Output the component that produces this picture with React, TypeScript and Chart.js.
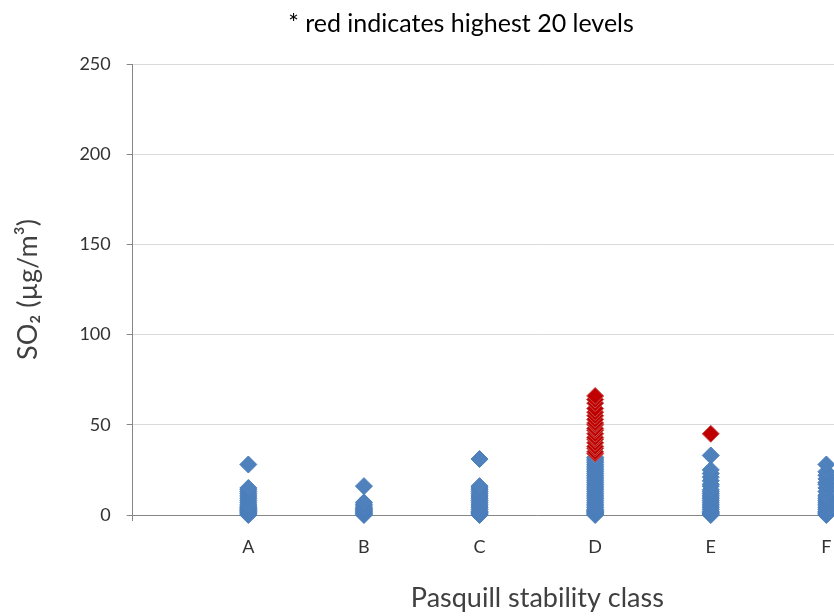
import React, { useEffect, useRef } from "react";
import { Chart, registerables } from "chart.js";

Chart.register(...registerables);

// Pasquill stability classes along the horizontal axis (positions 1..6)
const categories = ["A", "B", "C", "D", "E", "F"];

// SO2 levels (µg/m³) per stability class
const blueA = [0, 0.5, 1, 1.5, 2, 2.5, 3, 3.5, 4, 4.5, 5, 6, 7, 8, 9, 10, 11, 12, 13, 14, 15, 28];
const blueB = [0, 0.5, 1, 1.5, 2, 2.5, 3, 3.5, 4, 5, 6, 7, 16];
const blueC = [0, 0.5, 1, 1.5, 2, 3, 4, 5, 6, 7, 8, 9, 10, 11, 12, 13, 14, 15, 16, 31];
const blueD = [
  0, 0.5, 1, 1.5, 2, 2.5, 3, 4, 5, 6, 7, 8, 9, 10, 11, 12, 13, 14, 15, 16, 17, 18, 19, 20, 21,
  22, 23, 24, 25, 26, 27, 28, 29, 30, 31, 32,
];
const blueE = [0, 0.5, 1, 1.5, 2, 3, 4, 5, 6, 7, 8, 9, 10, 11, 12, 13, 14, 16, 17, 19, 21, 23, 25, 33];
const blueF = [0, 0.5, 1, 1.5, 2, 3, 4, 5, 6, 7, 8, 9, 10, 11, 13, 15, 17, 18, 20, 22, 24, 28];

// The 20 highest levels, split by class
const redD = [34, 35, 37, 38, 40, 42, 43, 45, 47, 48, 50, 51, 53, 55, 57, 59, 62, 64, 66];
const redE = [45];

const yTicks = [0, 50, 100, 150, 200, 250];

const blueSeries = [blueA, blueB, blueC, blueD, blueE, blueF];
const redSeries: Record<string, number[]> = { D: redD, E: redE };

const FONT = "Lato, 'Open Sans', sans-serif";

export default function App() {
  const canvasRef = useRef<HTMLCanvasElement | null>(null);

  useEffect(() => {
    if (!canvasRef.current) return;

    const bluePoints = blueSeries.flatMap((vals, i) => vals.map((v) => ({ x: i + 1, y: v })));
    const redPoints = categories.flatMap((c, i) =>
      (redSeries[c] || []).map((v) => ({ x: i + 1, y: v }))
    );

    const chart = new Chart(canvasRef.current, {
      type: "scatter",
      data: {
        datasets: [
          {
            label: "Highest 20",
            data: redPoints,
            pointStyle: "rectRot",
            pointRadius: 8.5,
            backgroundColor: "#C00000",
            borderColor: "#C8504D",
            borderWidth: 1,
            clip: false,
          },
          {
            label: "SO2",
            data: bluePoints,
            pointStyle: "rectRot",
            pointRadius: 8.5,
            backgroundColor: "#4F81BD",
            borderColor: "#4A7EBB",
            borderWidth: 1,
            clip: false,
          },
        ],
      },
      options: {
        responsive: false,
        animation: false,
        layout: { padding: { top: 64, right: 18, left: 0, bottom: 0 } },
        plugins: {
          legend: { display: false },
          tooltip: { enabled: false },
        },
        scales: {
          x: {
            type: "linear",
            min: 0,
            max: 7,
            afterBuildTicks: (scale: any) => {
              scale.ticks = [0, ...categories.map((_, i) => i + 1)].map((v) => ({ value: v }));
            },
            ticks: {
              autoSkip: false,
              maxRotation: 0,
              padding: 15,
              color: "#333333",
              font: { family: FONT, size: 18 },
              callback: (v: any) => (v >= 1 && v <= categories.length ? categories[v - 1] : ""),
            },
            grid: {
              color: "rgba(0,0,0,0)",
              tickColor: (ctx: any) => (ctx.tick && ctx.tick.value === 0 ? "#868686" : "rgba(0,0,0,0)"),
              tickLength: 6,
            },
            border: { display: true, color: "#868686", width: 1 },
            title: {
              display: true,
              text: "Pasquill stability class",
              color: "#404040",
              font: { family: FONT, size: 27 },
              padding: { top: 9, bottom: 2 },
            },
          },
          y: {
            min: 0,
            max: 250,
            afterBuildTicks: (scale: any) => {
              scale.ticks = yTicks.map((v) => ({ value: v }));
            },
            ticks: {
              padding: 16,
              color: "#333333",
              font: { family: FONT, size: 18 },
            },
            grid: {
              color: "#D9D9D9",
              tickColor: "#868686",
              tickLength: 6,
            },
            border: { display: true, color: "#868686", width: 1 },
            title: {
              display: true,
              text: "SO₂ (µg/m³)",
              color: "#404040",
              font: { family: FONT, size: 27 },
              padding: { top: 12, bottom: 19 },
            },
          },
        },
      },
    });

    return () => chart.destroy();
  }, []);

  return (
    <div
      style={{
        position: "fixed",
        left: 0,
        top: 0,
        width: 834,
        height: 616,
        overflow: "hidden",
        background: "#ffffff",
      }}
    >
      <div
        style={{
          position: "absolute",
          left: 0,
          top: 8,
          width: 922,
          textAlign: "center",
          fontFamily: FONT,
          fontSize: 25,
          lineHeight: "28px",
          color: "#000000",
        }}
      >
        * red indicates highest 20 levels
      </div>
      <canvas ref={canvasRef} width={960} height={616} style={{ display: "block" }} />
    </div>
  );
}
